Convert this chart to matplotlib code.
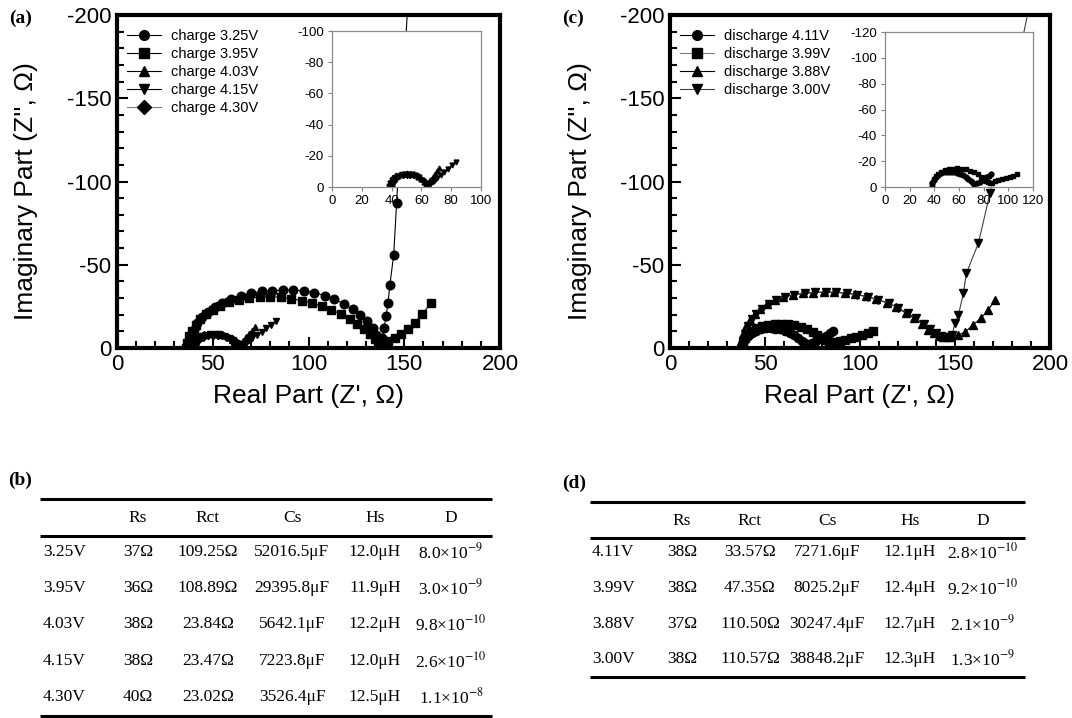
import matplotlib
matplotlib.use('Agg')
import matplotlib.pyplot as plt
from matplotlib.ticker import MultipleLocator

plt.rcParams['font.family'] = ['Liberation Sans', 'DejaVu Sans']
plt.rcParams['axes.unicode_minus'] = False
plt.rcParams['mathtext.fontset'] = 'stix'

# ---------------- (a) charge impedance data (Z', -Z'') ---------------- #
c325_x = [37, 37.5, 38.5, 40, 42, 44.5, 47.5, 51, 55, 59.5, 64.5, 70, 75.5, 81, 86.5, 92,
          97.5, 103, 108.5, 113.5, 118.5, 123, 127, 130.5, 133.5, 135.5, 137, 137.8,
          138.5, 139.5, 140.5, 141.5, 142.5, 144.5, 146, 153]
c325_y = [0, -3, -7, -11, -15, -18.5, -21.5, -24.5, -27, -29.5, -31.5, -33, -34, -34.5,
          -34.8, -34.8, -34.3, -33.3, -31.5, -29.3, -26.5, -23.3, -19.8, -16, -12, -8,
          -4.5, -2, -6, -12, -19, -27, -38, -56, -87, -230]

c395_x = [36, 36.5, 37.5, 39, 41, 43.5, 46.5, 50, 54, 58.5, 63.5, 69, 74.5, 80, 85.5, 91,
          96.5, 102, 107, 112, 117, 121.5, 125.5, 129, 132, 134.5, 136.5, 138, 141.5,
          145, 148.5, 152, 155.5, 159.5, 164]
c395_y = [0, -3, -7, -10.5, -14, -17.5, -20.5, -23, -25.5, -27.5, -29, -30, -30.5, -30.8,
          -30.5, -29.5, -28.5, -27, -25, -23, -20.3, -17.5, -14.5, -11.5, -8.5, -5.5, -3,
          -2.5, -4.2, -6.2, -8.2, -11.2, -15.3, -20.3, -27.3]

c403_x = [38, 38.5, 39.5, 41, 43, 45.5, 48, 50.5, 53, 55.5, 58, 60, 61.8, 63, 64.5, 66,
          67.5, 69, 70.5, 72]
c403_y = [0, -2.5, -4.5, -6.2, -7.4, -8.2, -8.6, -8.7, -8.4, -7.8, -6.6, -5, -3.3, -2,
          -2.5, -4.5, -6.5, -8.5, -10.5, -12.5]

c415_x = [38.5, 39, 40, 41.5, 43.5, 46, 48.5, 51, 53.5, 56, 58.5, 60.5, 62, 63.5, 65.5,
          68, 70.5, 73, 75.5, 78, 80.5, 83]
c415_y = [0, -2.4, -4.3, -6, -7.2, -8, -8.4, -8.5, -8.2, -7.5, -6.2, -4.6, -3, -2, -2.5,
          -4.2, -6, -7.8, -9.7, -11.8, -13.8, -16]

c430_x = [40, 40.5, 41.5, 43, 45, 47.5, 50, 52.5, 55, 57.5, 60, 62, 63.5, 64.5, 66, 67.5, 69]
c430_y = [0, -2.2, -4, -5.6, -6.8, -7.6, -8, -8, -7.6, -6.8, -5.4, -3.8, -2.2, -1.5, -2.5,
          -4, -5.5]

# ---------------- (c) discharge impedance data ---------------- #
d411_x = [38, 38.5, 39.5, 41, 43, 45.5, 48, 50.5, 53, 55.5, 58, 60.5, 63, 65.5, 67.5, 69.5,
          71, 72.5, 74.5, 77, 79.5, 82, 84, 86]
d411_y = [0, -3, -5.5, -7.5, -9.2, -10.5, -11.3, -11.8, -11.9, -11.7, -11.2, -10.4, -9.2,
          -7.6, -6, -4.3, -2.8, -2, -2.8, -4.2, -5.8, -7.4, -8.8, -10.3]

d399_x = [38, 38.5, 39.5, 41, 43, 45.5, 48.5, 51.5, 55, 58.5, 62, 65.5, 69, 72, 75, 77.5,
          80, 82, 83.5, 85, 87, 89.5, 92, 95, 98, 101, 104, 107]
d399_y = [0, -3.2, -6, -8.3, -10.2, -11.8, -13, -13.8, -14.3, -14.4, -14.2, -13.6, -12.6,
          -11.3, -9.7, -8, -6.2, -4.7, -3.5, -2.8, -3.4, -4.3, -5.1, -5.9, -6.8, -7.8,
          -8.9, -10.3]

d388_x = [37, 37.5, 38.5, 40, 42, 44.5, 47.5, 51, 55, 59.5, 64.5, 70, 75.5, 81, 86.5, 92,
          97.5, 103, 108.5, 114, 119, 124, 128.5, 132.5, 136, 139, 141.5, 143.5, 145.5,
          148, 151.8, 155.5, 159.5, 163.5, 167.5, 171]
d388_y = [0, -4, -8.5, -13, -17, -20.5, -23.5, -26.5, -28.8, -30.6, -31.9, -32.8, -33.3,
          -33.5, -33.4, -33, -32.2, -31, -29.3, -27.3, -24.8, -21, -18, -14.5, -11, -8.8,
          -7.5, -6.8, -6.5, -6.8, -7.8, -9.8, -13.8, -17.8, -22.8, -28.8]

d300_x = [38, 38.5, 39.5, 41, 43, 45.5, 48.5, 52, 56, 60.5, 65.5, 71, 76.5, 82, 87.5, 93,
          98.5, 104, 109.5, 115, 120, 125, 129.5, 133.5, 137, 140, 142.5, 144.5, 146.5,
          148.5, 150, 151.8, 154.4, 156, 162.3, 168.4, 190]
d300_y = [0, -4.2, -8.7, -13.2, -17.2, -20.7, -23.7, -26.7, -29, -30.8, -32.1, -33, -33.4,
          -33.6, -33.5, -33, -32.1, -30.8, -29, -26.8, -24.2, -21, -18, -14.5, -11.2, -9,
          -7.5, -6.8, -6.5, -8, -14.8, -19.8, -32.9, -44.9, -62.9, -92.9, -210]

# ---------------- tables ---------------- #
tab_cols = ['Rs', 'Rct', 'Cs', 'Hs', 'D']

b_volt = ['3.25V', '3.95V', '4.03V', '4.15V', '4.30V']
b_rs = ['37Ω', '36Ω', '38Ω', '38Ω', '40Ω']
b_rct = ['109.25Ω', '108.89Ω', '23.84Ω', '23.47Ω', '23.02Ω']
b_cs = ['52016.5μF', '29395.8μF', '5642.1μF', '7223.8μF', '3526.4μF']
b_hs = ['12.0μH', '11.9μH', '12.2μH', '12.0μH', '12.5μH']
b_d = ['8.0×10$^{-9}$', '3.0×10$^{-9}$', '9.8×10$^{-10}$', '2.6×10$^{-10}$', '1.1×10$^{-8}$']

d_volt = ['4.11V', '3.99V', '3.88V', '3.00V']
d_rs = ['38Ω', '38Ω', '37Ω', '38Ω']
d_rct = ['33.57Ω', '47.35Ω', '110.50Ω', '110.57Ω']
d_cs = ['7271.6μF', '8025.2μF', '30247.4μF', '38848.2μF']
d_hs = ['12.1μH', '12.4μH', '12.7μH', '12.3μH']
d_d = ['2.8×10$^{-10}$', '9.2×10$^{-10}$', '2.1×10$^{-9}$', '1.3×10$^{-9}$']

W, H = 1072., 718.
fig = plt.figure(figsize=(W / 100, H / 100), dpi=100)


def px_axes(l, t, r, b):
    return fig.add_axes([l / W, 1 - b / H, (r - l) / W, (b - t) / H])


# overlay in pixel coords for panel letters and the tables
ov = px_axes(0, 0, W, H)
ov.set_xlim(0, W)
ov.set_ylim(H, 0)
ov.axis('off')


def style_main(ax):
    ax.set_xlim(0, 200)
    ax.set_ylim(0, -200)
    ax.xaxis.set_major_locator(MultipleLocator(50))
    ax.xaxis.set_minor_locator(MultipleLocator(10))
    ax.yaxis.set_major_locator(MultipleLocator(50))
    ax.yaxis.set_minor_locator(MultipleLocator(10))
    ax.tick_params(which='both', direction='in', width=1.5, labelsize=16)
    ax.tick_params(which='major', length=8, pad=4)
    ax.tick_params(which='minor', length=5)
    for s in ax.spines.values():
        s.set_linewidth(3)
    ax.set_xlabel("Real Part (Z', Ω)", fontsize=19)
    ax.set_ylabel("Imaginary Part (Z'', Ω)", fontsize=19)
    ax.xaxis.set_label_coords(0.5, -0.108)
    ax.yaxis.set_label_coords(-0.205, 0.47)


def style_inset(ax, lim):
    ax.set_xlim(0, lim)
    ax.set_ylim(0, -lim)
    ax.xaxis.set_major_locator(MultipleLocator(20))
    ax.yaxis.set_major_locator(MultipleLocator(20))
    ax.tick_params(direction='out', length=3, width=0.8, color='#808080',
                   labelsize=9.5, pad=3)
    for s in ax.spines.values():
        s.set_linewidth(0.9)
        s.set_color('#8a8a8a')
    ax.set_facecolor('white')


def legend(ax, handles, labels):
    leg = ax.legend(handles, labels, loc='upper left', bbox_to_anchor=(0.025, 0.958),
                    frameon=False, fontsize=10.5, handlelength=2.35, handletextpad=0.7,
                    labelspacing=0.28, borderpad=0, borderaxespad=0)
    for h in leg.legend_handles:
        h.set_markersize(7)


# ---------------- panel (a) ---------------- #
ax_a = px_axes(117, 15, 500, 348)
style_main(ax_a)
kw = dict(color='black', lw=0.8, mfc='black', mec='black')
la = [
    ax_a.plot(c325_x, c325_y, marker='o', ms=6.2, **kw)[0],
    ax_a.plot(c395_x, c395_y, marker='s', ms=5.5, **kw)[0],
    ax_a.plot(c403_x, c403_y, marker='^', ms=5, **kw)[0],
    ax_a.plot(c415_x, c415_y, marker='v', ms=5, **kw)[0],
    ax_a.plot(c430_x, c430_y, marker='D', ms=4, color='#808080', lw=0.8, mfc='black', mec='black')[0],
]
legend(ax_a, la, ['charge 3.25V', 'charge 3.95V', 'charge 4.03V', 'charge 4.15V', 'charge 4.30V'])

ins_a = px_axes(332, 31, 481, 187)
style_inset(ins_a, 100)
ins_a.plot(c403_x, c403_y, marker='^', ms=3.5, **kw)
ins_a.plot(c415_x, c415_y, marker='v', ms=3.5, **kw)
ins_a.plot(c430_x, c430_y, marker='D', ms=3, **kw)

# ---------------- panel (c) ---------------- #
ax_c = px_axes(670, 15, 1050, 348)
style_main(ax_c)
lc = [
    ax_c.plot(d411_x, d411_y, marker='o', ms=6, **kw)[0],
    ax_c.plot(d399_x, d399_y, marker='s', ms=5.5, color='#808080', lw=0.8, mfc='black', mec='black')[0],
    ax_c.plot(d388_x, d388_y, marker='^', ms=6, **kw)[0],
    ax_c.plot(d300_x, d300_y, marker='v', ms=6, color='#404040', lw=0.8, mfc='black', mec='black')[0],
]
legend(ax_c, lc, ['discharge 4.11V', 'discharge 3.99V', 'discharge 3.88V', 'discharge 3.00V'])

ins_c = px_axes(885, 32, 1033, 187)
style_inset(ins_c, 120)
ins_c.plot(d411_x, d411_y, marker='o', ms=3.5, **kw)
ins_c.plot(d399_x, d399_y, marker='s', ms=3.5, **kw)

# ---------------- panel letters ---------------- #
lab_kw = dict(fontsize=14, fontweight='bold', family='Liberation Serif', va='center')
ov.text(9, 18, '(a)', **lab_kw)
ov.text(562, 18, '(c)', **lab_kw)
ov.text(8, 480, '(b)', **lab_kw)
ov.text(562, 483, '(d)', **lab_kw)


# ---------------- tables ---------------- #
def draw_table(x0, x1, rules, head_y, row_ys, first_x, col_xs, volts, cols):
    for y in rules:
        ov.plot([x0, x1], [y, y], color='black', lw=2.2, solid_capstyle='butt')
    tk = dict(family=['Liberation Serif', 'DejaVu Serif'], fontsize=12.5, va='center')
    for cx, name in zip(col_xs, tab_cols):
        ov.text(cx, head_y, name, ha='center', **tk)
    for i, y in enumerate(row_ys):
        ov.text(first_x, y, volts[i], ha='left', **tk)
        for cx, col in zip(col_xs, cols):
            ov.text(cx, y, col[i], ha='center', **tk)


draw_table(40, 492, [499, 536, 716], 518, [552, 588, 624, 661, 697], 43,
           [138, 208, 292, 375, 451], b_volt, [b_rs, b_rct, b_cs, b_hs, b_d])
draw_table(590, 1025, [502, 538, 677], 521, [552, 588, 624, 659], 592,
           [682, 750, 827, 910, 983], d_volt, [d_rs, d_rct, d_cs, d_hs, d_d])

fig.savefig('out.png', dpi=100)
